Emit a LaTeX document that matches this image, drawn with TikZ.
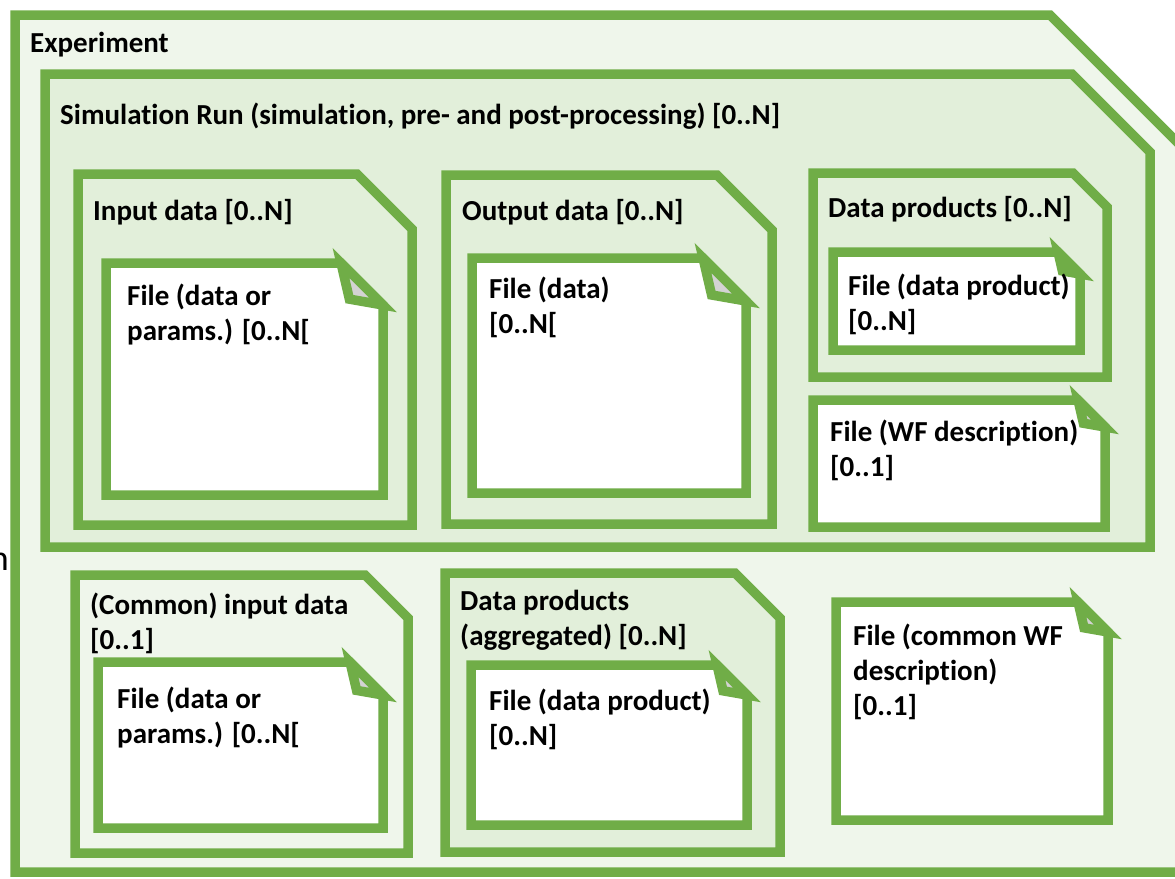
\documentclass[tikz,border=0pt]{standalone}
\usepackage{fontspec}
\setmainfont[Ligatures={NoCommon,NoRare,NoContextual}]{Carlito}
\definecolor{leaf}{HTML}{70AD47}
\definecolor{paleA}{HTML}{EFF6EB}
\definecolor{paleB}{HTML}{E2EFDA}
\definecolor{earfill}{HTML}{D3D3D3}
\tikzset{
  frame/.style={draw=leaf, line width=9.5pt, line join=miter, miter limit=20},
  lbl/.style={anchor=north west, inner sep=0pt, align=left,
    font=\bfseries\fontsize{29}{35}\selectfont},
}
% container with a cut top-right corner: left, top, right, bottom, cut, fill
\newcommand\folder[6]{%
  \path[frame, fill=#6] (#1,#2) -- ({#3-#5},#2) -- (#3,{#2+#5}) -- (#3,#4) -- (#1,#4) -- cycle;}
% document icon with a dog-ear: left, top, right, bottom, cut
\newcommand\docicon[5]{%
  \path[frame, fill=white] (#1,#2) -- ({#3-#5},#2) -- (#3,{#2+#5}) -- (#3,#4) -- (#1,#4) -- cycle;
  \path[frame, fill=earfill] ({#3-#5},#2) -- ({#3-0.8*#5},{#2+0.86*#5}) -- (#3,{#2+#5}) -- cycle;}
\begin{document}
\begin{tikzpicture}[x=1pt,y=-1pt]
\useasboundingbox (0,0) rectangle (1175,878);
\clip (0,0) rectangle (1175,878);

% experiment
\folder{15}{15}{1200}{872}{150}{paleA}
\node[lbl] (exp) at (30,27.5) {\strut Experiment};
\node[anchor=north east, inner sep=0pt, font=\fontsize{36}{43}\selectfont] (stray) at (9,540) {\strut n};

% simulation run
\folder{45}{74}{1150}{547}{78}{paleB}
\node[lbl] (sim) at (60,100) {\strut Simulation Run (simulation, pre- and post-processing) [0..N]};

% input data
\folder{78}{174}{412}{525}{55}{paleB}
\node[lbl] (inp) at (93,196) {\strut Input data [0..N]};
\docicon{106}{263}{383}{495}{42}
\node[lbl] (fin) at (127,281) {\strut File (data or\\params.) [0..N[};

% output data
\folder{446}{175}{772}{524}{55}{paleB}
\node[lbl] (out) at (462,196) {\strut Output data [0..N]};
\docicon{472}{258}{746}{493}{43}
\node[lbl] (fout) at (489,274) {\strut File (data)\\{}[0..N[};

% data products
\folder{813}{173}{1107}{377}{34}{paleB}
\node[lbl] (dp) at (828,193) {\strut Data products [0..N]};
\docicon{833}{252}{1080}{350}{22}
\node[lbl] (fdp) at (848,271) {\strut File (data product)\\{}[0..N]};

% workflow description
\docicon{813}{400}{1105}{527}{27}
\node[lbl] (fwf) at (830,417) {\strut File (WF description)\\{}[0..1]};

% common input data
\folder{75}{575}{408}{853}{43}{paleA}
\node[lbl] (cin) at (90,590) {\strut (Common) input data\\{}[0..1]};
\docicon{98}{662}{383}{828}{33}
\node[lbl] (fcin) at (117,684) {\strut File (data or\\params.) [0..N[};

% aggregated data products
\folder{445}{573}{780}{852}{45}{paleB}
\node[lbl] (agg) at (460,586) {\strut Data products\\(aggregated) [0..N]};
\docicon{471}{665}{747}{825}{30}
\node[lbl] (fagg) at (489,686) {\strut File (data product)\\{}[0..N]};

% common workflow description
\docicon{836}{602}{1108}{820}{30}
\node[lbl] (fcwf) at (853,621) {\strut File (common WF\\description)\\{}[0..1]};
\end{tikzpicture}
\end{document}
